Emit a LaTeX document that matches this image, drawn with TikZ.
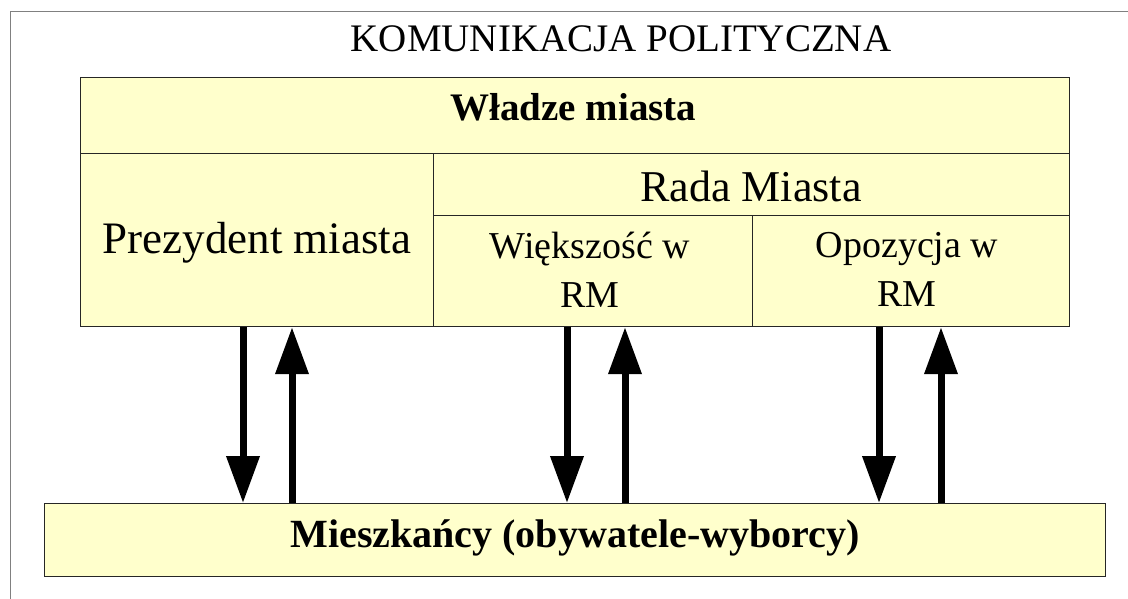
\documentclass[tikz,border=0pt]{standalone}
\usepackage{fontspec}
\setmainfont{Liberation Serif}
\usetikzlibrary{arrows.meta}
\definecolor{boxfill}{HTML}{FFFFCC}
\definecolor{framegray}{HTML}{808080}
\begin{document}
\begin{tikzpicture}[x=1pt,y=-1pt,
  box/.style={draw=black!85, line width=1.2pt, fill=boxfill, inner sep=0pt, anchor=north west},
  lbl/.style={inner sep=0pt, anchor=base},
  twoline/.style={inner sep=0pt, anchor=north, align=center, font=\fontsize{38}{49}\selectfont},
  flow/.style={line width=7pt, -{Triangle[width=32pt,length=47pt]}}]
\useasboundingbox (0,0) rectangle (1128,599);

% outer frame
\draw[framegray, line width=1pt] (1128,12) -- (10,12) -- (10,599);

% title
\node[lbl, font=\fontsize{39}{47}\selectfont] (title) at (621,52) {KOMUNIKACJA POLITYCZNA};

% city authorities
\node[box, minimum width=989pt, minimum height=76pt] (wladze) at (80,77) {};
\node[box, minimum width=353pt, minimum height=173pt] (prez) at (80,153) {};
\node[box, minimum width=636pt, minimum height=62pt] (rada) at (433,153) {};
\node[box, minimum width=319pt, minimum height=111pt] (wiek) at (433,215) {};
\node[box, minimum width=317pt, minimum height=111pt] (opoz) at (752,215) {};

% citizens
\node[box, minimum width=1061pt, minimum height=73pt] (miesz) at (44,503) {};

% labels
\node[lbl, font=\bfseries\fontsize{39}{46}\selectfont] (wladzeT) at (573.5,121) {Władze miasta};
\node[lbl, font=\fontsize{45}{54}\selectfont] (prezT) at (257,253) {Prezydent miasta};
\node[lbl, font=\fontsize{44}{52}\selectfont] (radaT) at (751,202) {Rada Miasta};
\node[twoline] (wiekT) at (590,232) {Większość w\\RM};
\node[twoline] (opozT) at (907,232) {Opozycja w\\RM};
\node[lbl, font=\bfseries\fontsize{40}{47}\selectfont] (mieszT) at (575,547) {Mieszkańcy (obywatele-wyborcy)};

% arrow columns
\coordinate (c1) at (243,0);
\coordinate (c2) at (292,0);
\coordinate (c3) at (567,0);
\coordinate (c4) at (625,0);
\coordinate (c5) at (879,0);
\coordinate (c6) at (941,0);

\draw[flow] (prez.south -| c1) -- (miesz.north -| c1);
\draw[flow] (miesz.north -| c2) -- (prez.south -| c2);
\draw[flow] (wiek.south -| c3) -- (miesz.north -| c3);
\draw[flow] (miesz.north -| c4) -- (wiek.south -| c4);
\draw[flow] (opoz.south -| c5) -- (miesz.north -| c5);
\draw[flow] (miesz.north -| c6) -- (opoz.south -| c6);
\end{tikzpicture}
\end{document}
